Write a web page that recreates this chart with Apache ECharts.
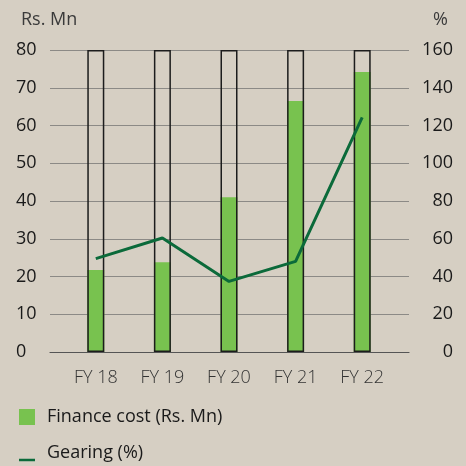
<!DOCTYPE html>
<html>
<head>
<meta charset="utf-8">
<script src="https://cdn.jsdelivr.net/npm/echarts@6/dist/echarts.min.js"></script>
<style>
  html, body { margin: 0; padding: 0; }
  body { background: #d6cfc3; }
  #chart { width: 466px; height: 466px; }
</style>
</head>
<body>
<div id="chart"></div>
<script>
// chart data
var years = ['FY 18', 'FY 19', 'FY 20', 'FY 21', 'FY 22'];
var financeCost = [21.7, 23.8, 41, 66.5, 74.2];
var gearing = [49.5, 60.4, 37.4, 48, 124.3];
var leftTicks = { min: 0, max: 80, step: 10 };
var rightTicks = { min: 0, max: 160, step: 20 };

var font = '"Open Sans", "Noto Sans", sans-serif';
var chart = echarts.init(document.getElementById('chart'));

// empty frame drawn round every bar, up to the top of the scale
var frame = years.map(function () { return leftTicks.max; });

var option = {
    backgroundColor: 'transparent',
    animation: false,
    textStyle: { fontFamily: font },
    title: [
        { text: 'Rs. Mn', left: 16, top: 6, textStyle: { fontFamily: font, fontSize: 18, fontWeight: 'normal', color: '#3a3a3a' } },
        { text: '%', right: 13, top: 6, textStyle: { fontFamily: font, fontSize: 18, fontWeight: 'normal', color: '#3a3a3a' } }
    ],
    legend: [{
        data: ['Finance cost (Rs. Mn)'],
        orient: 'vertical',
        left: 14, top: 403,
        icon: 'rect', itemWidth: 16, itemHeight: 16,
        formatter: '{t|{name}}',
        textStyle: {
            fontFamily: font, fontSize: 18, color: '#1a1a1a',
            rich: { t: { fontFamily: font, fontSize: 18, color: '#1a1a1a', padding: [0, 0, 0, 7] } }
        }
    }, {
        // text sits a little above the thin line icon
        data: ['Gearing (%)'],
        orient: 'vertical',
        left: 14, top: 439,
        icon: 'rect', itemWidth: 16, itemHeight: 2.5,
        formatter: '{t|{name}}',
        textStyle: {
            fontFamily: font, fontSize: 18, color: '#1a1a1a',
            rich: { t: { fontFamily: font, fontSize: 18, color: '#1a1a1a', padding: [0, 0, 14, 7] } }
        }
    }],
    grid: [
        { left: 50, right: 57, top: 50, bottom: 114 },
        { left: 62.5, right: 70.5, top: 50, bottom: 114 }
    ],
    xAxis: [{
        gridIndex: 0, type: 'category', data: years,
        axisLine: { show: true, lineStyle: { color: '#555', width: 1.2 } },
        axisTick: { show: false }, axisLabel: { show: false }
    }, {
        gridIndex: 1, type: 'category', data: years,
        axisLine: { show: false }, axisTick: { show: false },
        axisLabel: { margin: 17, fontFamily: font, fontSize: 18, fontWeight: 300, color: '#333' }
    }],
    yAxis: [{
        gridIndex: 0, type: 'value', position: 'left',
        min: leftTicks.min, max: leftTicks.max, interval: leftTicks.step,
        axisLine: { show: false }, axisTick: { show: false },
        axisLabel: { align: 'left', margin: 34, fontFamily: font, fontSize: 18, color: '#1a1a1a' },
        splitLine: { lineStyle: { color: '#8c8a86', width: 1 } }
    }, {
        gridIndex: 0, type: 'value', position: 'right',
        min: rightTicks.min, max: rightTicks.max, interval: rightTicks.step,
        axisLine: { show: false }, axisTick: { show: false },
        axisLabel: { align: 'right', margin: 44, fontFamily: font, fontSize: 18, color: '#1a1a1a' },
        splitLine: { show: false }
    }, {
        gridIndex: 1, type: 'value', show: false,
        min: leftTicks.min, max: leftTicks.max
    }, {
        gridIndex: 1, type: 'value', show: false,
        min: rightTicks.min, max: rightTicks.max
    }],
    series: [{
        name: 'Finance cost (Rs. Mn)', type: 'bar',
        xAxisIndex: 1, yAxisIndex: 2,
        data: financeCost, barWidth: 17,
        itemStyle: { color: '#78c24f' }, z: 2
    }, {
        name: 'frame', type: 'bar',
        xAxisIndex: 1, yAxisIndex: 2,
        data: frame, barWidth: 17, barGap: '-100%',
        itemStyle: { color: 'rgba(0,0,0,0)', borderColor: '#1c1c1c', borderWidth: 1.5 },
        silent: true, z: 3
    }, {
        name: 'Gearing (%)', type: 'line',
        xAxisIndex: 1, yAxisIndex: 3,
        data: gearing, symbol: 'none',
        lineStyle: { color: '#0b6a3a', width: 3 },
        itemStyle: { color: '#0b6a3a' }, z: 4
    }]
};

chart.setOption(option);
</script>
</body>
</html>
